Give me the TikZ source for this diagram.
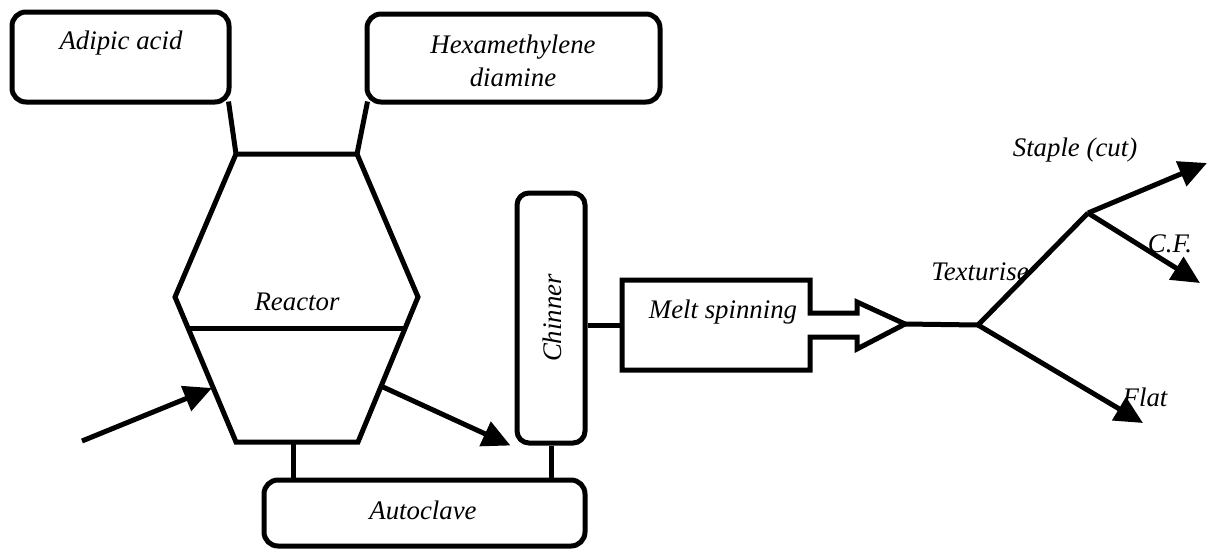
\documentclass[tikz,border=0pt]{standalone}
\usepackage{fontspec}
\setmainfont{Liberation Serif}[ItalicFont={Liberation Serif Italic}]
\usetikzlibrary{arrows.meta,calc}

\tikzset{pline/.style={line width=2.5pt,line join=miter}}
\tikzset{pbox/.style={draw,pline,rounded corners=7pt,inner sep=0pt}}
\tikzset{plabel/.style={font=\fontsize{13.4}{16.5}\selectfont\itshape,inner sep=0pt,align=center}}
\tikzset{parrow/.style={pline,-{Triangle[length=14pt,width=13pt]}}}

\begin{document}
\begin{tikzpicture}[x=0.5pt,y=-0.5pt]
        \useasboundingbox (0,0) rectangle (1208,552);
        % feed tanks
        \node[pbox,minimum width=108.5pt,minimum height=45pt] (adipic) at (120.5,57) {};
        \node[plabel] (adipictext) at (121,43) {Adipic acid};
        \node[pbox,minimum width=146.5pt,minimum height=44pt] (hexa) at (513.5,58) {};
        \node[plabel] (hexatext) at (513,61) {Hexamethylene\\diamine};
        
        % the reactor
        \coordinate (rtl) at (236,154);
        \coordinate (rtr) at (357,154);
        \coordinate (rr) at (418,297);
        \coordinate (rbr) at (358,442);
        \coordinate (rbl) at (236,442);
        \coordinate (rl) at (175,297);
        \draw[pline] (rtl) -- (rtr) -- (rr) -- (rbr) -- (rbl) -- (rl) -- cycle;
        \draw[pline] ($(rl)!0.22!(rbl)$) -- ($(rr)!0.22!(rbr)$);
        \node[plabel] (reactor) at (297,302) {Reactor};
        \draw[pline] ([shift={(-3,-3)}]adipic.south east) -- (rtl);
        \draw[pline] ([shift={(3,-3)}]hexa.south west) -- (rtr);
        
        % chinner and autoclave
        \node[pbox,rounded corners=6pt,minimum width=34pt,minimum height=125pt] (chinner) at (551,318) {};
        \node[plabel,rotate=90] (chinnertext) at (552,318) {Chinner};
        \node[pbox,minimum width=160.5pt,minimum height=33pt] (autoclave) at (424.5,513) {};
        \node[plabel] (autoclavetext) at (423,510) {Autoclave};
        \coordinate (rfoot) at (293,442);
        \draw[pline] (rfoot) -- (rfoot |- autoclave.north);
        \draw[pline] (chinner.south) -- (chinner.south |- autoclave.north);
        
        % feed in, melt out
        \coordinate (feed) at (82,441);
        \coordinate (rin) at (212,388);
        \coordinate (rout) at (383,387);
        \draw[parrow] (feed) -- (rin);
        \draw[parrow] (rout) -- ([shift={(-4,0)}]chinner.south west);
        
        % melt spinning with its hollow arrow
        \coordinate (mleft) at (622,325);
        \coordinate (mtip) at (905,324);
        \draw[pline] (622,280) -- (810,280) -- (810,313) -- (857,313) -- (857,302) -- (mtip)
            -- (857,349) -- (857,337) -- (810,337) -- (810,370) -- (622,370) -- cycle;
        \node[plabel] (melt) at (723,312) {Melt spinning};
        \draw[pline] (chinner.east |- mleft) -- (mleft);
        
        % texturise branches
        \coordinate (tsplit) at (978,325);
        \coordinate (ssplit) at (1088,213);
        \coordinate (staple) at (1207,163);
        \coordinate (cf) at (1200,283);
        \coordinate (flat) at (1143,423);
        \draw[pline] (mtip) -- (tsplit) -- (ssplit);
        \draw[parrow] (ssplit) -- (staple);
        \draw[parrow] (ssplit) -- (cf);
        \draw[parrow] (tsplit) -- (flat);
        \node[plabel] (stapletext) at (1075,150) {Staple (cut)};
        \node[plabel] (cftext) at (1170,244) {C.F.};
        \node[plabel] (texttext) at (980,272) {Texturise};
        \node[plabel] (flattext) at (1145,397) {Flat};
    \end{tikzpicture}
\end{document}
